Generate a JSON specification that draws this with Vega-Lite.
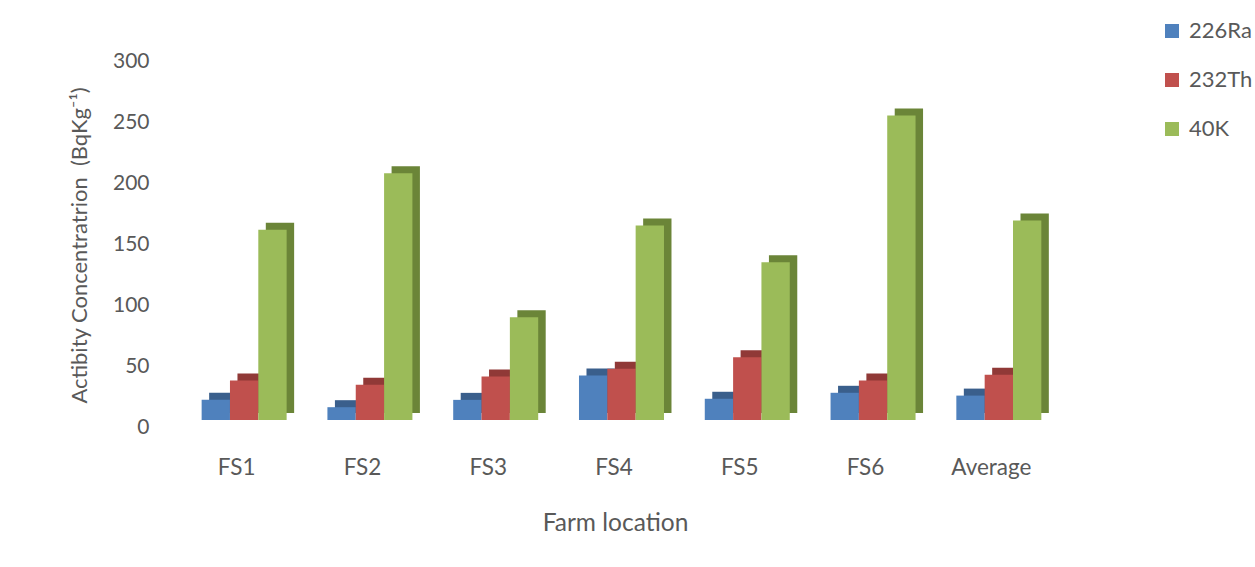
{
  "$schema": "https://vega.github.io/schema/vega-lite/v6.json",
  "autosize": "none",
  "width": 923,
  "height": 366,
  "padding": {"left": 160, "top": 54, "right": 172, "bottom": 147},
  "background": "#ffffff",
  "config": {
    "view": {"stroke": null},
    "font": "Lato",
    "axis": {"labelColor": "#595959", "titleColor": "#595959", "titleFontWeight": "normal", "domain": false, "ticks": false, "tickSize": 0, "grid": false},
    "legend": {"labelColor": "#595959"}
  },
  "data": {
    "values": [
      {"site": "FS1", "nuclide": "226Ra", "activity": 16.6},
      {"site": "FS1", "nuclide": "232Th", "activity": 32.4},
      {"site": "FS1", "nuclide": "40K", "activity": 155.9},
      {"site": "FS2", "nuclide": "226Ra", "activity": 10.5},
      {"site": "FS2", "nuclide": "232Th", "activity": 28.8},
      {"site": "FS2", "nuclide": "40K", "activity": 202.3},
      {"site": "FS3", "nuclide": "226Ra", "activity": 16.5},
      {"site": "FS3", "nuclide": "232Th", "activity": 35.7},
      {"site": "FS3", "nuclide": "40K", "activity": 84.3},
      {"site": "FS4", "nuclide": "226Ra", "activity": 36.5},
      {"site": "FS4", "nuclide": "232Th", "activity": 42.0},
      {"site": "FS4", "nuclide": "40K", "activity": 159.4},
      {"site": "FS5", "nuclide": "226Ra", "activity": 17.4},
      {"site": "FS5", "nuclide": "232Th", "activity": 51.5},
      {"site": "FS5", "nuclide": "40K", "activity": 129.3},
      {"site": "FS6", "nuclide": "226Ra", "activity": 22.3},
      {"site": "FS6", "nuclide": "232Th", "activity": 32.4},
      {"site": "FS6", "nuclide": "40K", "activity": 249.6},
      {"site": "Average", "nuclide": "226Ra", "activity": 20.0},
      {"site": "Average", "nuclide": "232Th", "activity": 37.1},
      {"site": "Average", "nuclide": "40K", "activity": 163.5}
    ]
  },
  "encoding": {
    "x": {
      "field": "site",
      "type": "nominal",
      "sort": null,
      "scale": {"paddingInner": 0.324, "paddingOuter": 0.331},
      "axis": {
        "title": "Farm location",
        "labelAngle": 0,
        "labelFontSize": 22.5,
        "labelBaseline": "middle",
        "labelPadding": 47,
        "labelOffset": -7.5,
        "titleFontSize": 24.5,
        "titleX": 455,
        "titleY": 103,
        "titleBaseline": "middle"
      }
    },
    "y": {
      "field": "activity",
      "type": "quantitative",
      "scale": {"domain": [0, 300], "nice": false},
      "axis": {
        "title": "Actibity Concentratrion \u00a0(BqKg⁻¹)",
        "values": [0, 50, 100, 150, 200, 250, 300],
        "labelFontSize": 21,
        "labelPadding": 11,
        "labelOffset": 7,
        "titleFontSize": 22,
        "titleAngle": 270,
        "titleX": -81,
        "titleY": 191,
        "titleAlign": "center",
        "titleBaseline": "middle"
      }
    }
  },
  "layer": [
    {
      "description": "depth faces: darker copy set back and up behind each column",
      "mark": {"type": "bar", "yOffset": -7, "y2Offset": -7},
      "encoding": {
        "xOffset": {"field": "nuclide", "type": "nominal", "scale": {"range": [7.5, 92.5], "paddingInner": 0, "paddingOuter": 0}},
        "color": {
          "field": "nuclide",
          "type": "nominal",
          "scale": {"domain": ["226Ra", "232Th", "40K"], "range": ["#3A5F8C", "#903937", "#6B8538"]},
          "legend": null
        }
      }
    },
    {
      "mark": {"type": "bar"},
      "encoding": {
        "xOffset": {"field": "nuclide", "type": "nominal", "scale": {"range": [0, 85], "paddingInner": 0, "paddingOuter": 0}},
        "color": {
          "field": "nuclide",
          "type": "nominal",
          "scale": {"domain": ["226Ra", "232Th", "40K"], "range": ["#4F81BD", "#C0504D", "#9BBB59"]},
          "legend": {
            "title": null,
            "orient": "none",
            "legendX": 1001,
            "legendY": -34,
            "symbolType": "square",
            "symbolSize": 196,
            "symbolStrokeWidth": 0,
            "labelFontSize": 22,
            "labelOffset": 6,
            "rowPadding": 27
          }
        }
      }
    }
  ],
  "resolve": {"scale": {"color": "independent", "xOffset": "independent"}}
}
